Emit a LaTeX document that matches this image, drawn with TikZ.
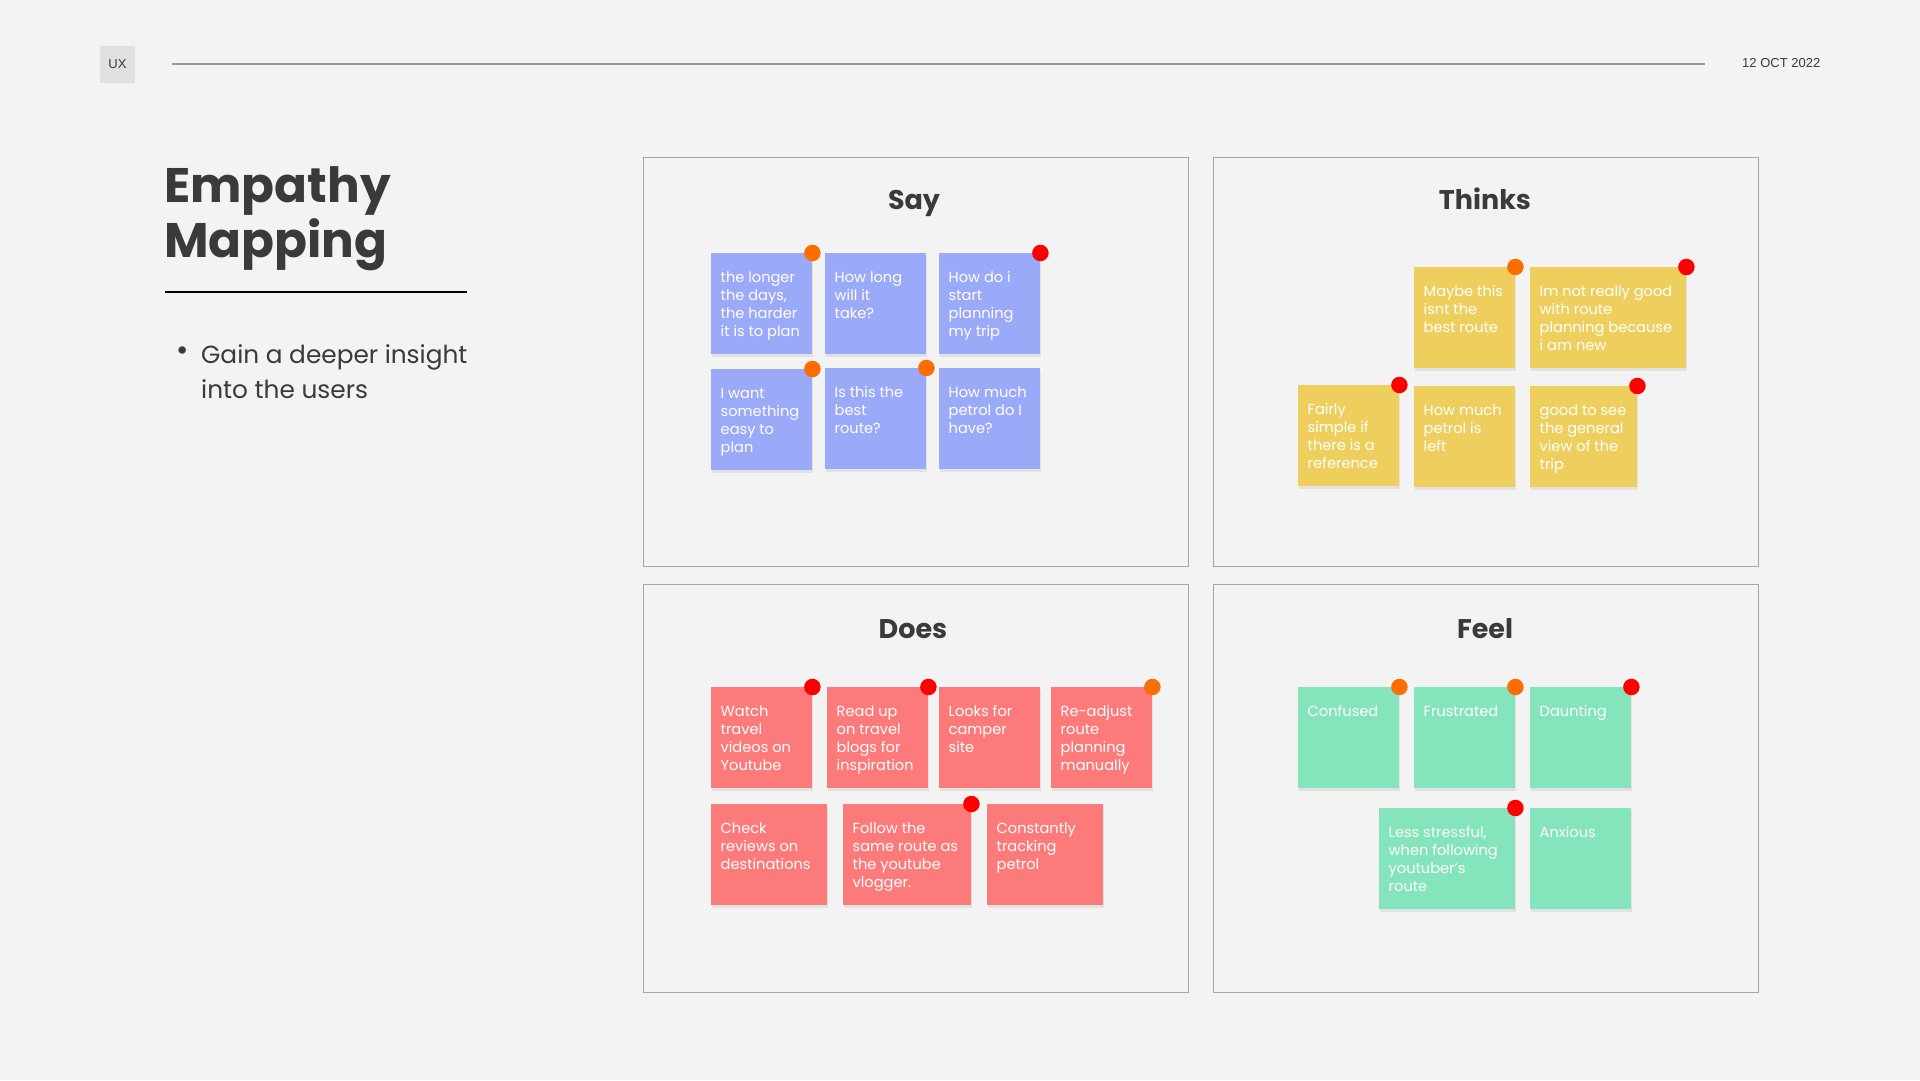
\documentclass[tikz,border=0pt]{standalone}
\usepackage{fontspec}
\setmainfont{Poppins}
\newfontfamily\helv{Liberation Sans}
\usetikzlibrary{shadows}
\definecolor{bg}{HTML}{F3F3F3}
\definecolor{ink}{HTML}{3A3A3A}
\definecolor{sayc}{HTML}{9BA9F9}
\definecolor{thinkc}{HTML}{EECF5D}
\definecolor{doesc}{HTML}{FC7A79}
\definecolor{feelc}{HTML}{84E4BB}
\definecolor{dotor}{HTML}{FF6D00}
\definecolor{dotred}{HTML}{FF0000}
\definecolor{framec}{HTML}{A6A6A6}
\definecolor{rulec}{HTML}{9A9A9A}
\definecolor{uxbox}{HTML}{E0E0E0}
\tikzset{
  note/.style={rectangle, inner sep=0pt, minimum height=101pt, anchor=north west,
    drop shadow={opacity=0.14, shadow xshift=1pt, shadow yshift=-3pt}},
  notetext/.style={anchor=north west, inner sep=0pt, align=left, text=white,
    font=\fontsize{14.6}{18}\selectfont},
  pin/.style={circle, inner sep=0pt, minimum size=16.5pt},
  quad/.style={draw=framec, line width=1.3pt, fill=bg, anchor=north west, inner sep=0pt},
  qtitle/.style={anchor=base, text=ink, inner sep=0pt, font=\fontsize{27}{30}\selectfont\bfseries},
}
\newcommand\sticky[6]{%
  \node[note, fill=#5, minimum width=#4pt] (#1) at (#2,#3) {};
  \node[notetext] (#1-t) at ([xshift=9.5pt,yshift=-15.5pt]#1.north west) {\rule{0pt}{14pt}#6};
}
\newcommand\stickypin[2]{%
  \node[pin, fill=#2] (#1-pin) at (#1.north east) {};
}
\begin{document}
\begin{tikzpicture}[x=1pt,y=-1pt]
\fill[bg] (0,0) rectangle (1920,1080);
\useasboundingbox (0,0) rectangle (1920,1080);

% header
\node[fill=uxbox, minimum width=35pt, minimum height=37pt, inner sep=0pt, text=ink,
  font=\helv\fontsize{13}{15}\selectfont] (ux) at (117.5,64.5) {UX};
\coordinate (ruleL) at (172,64);
\coordinate (ruleR) at (1705,64);
\draw[rulec, line width=1.6pt] (ruleL) -- (ruleR);
\node[anchor=west, inner sep=0pt, text=ink, font=\helv\fontsize{13}{15}\selectfont] (date) at (1742,63.5) {12 OCT 2022};

% title
\node[anchor=north west, inner sep=0pt, align=left, text=ink,
  font=\fontsize{48.5}{55}\selectfont\bfseries] (title) at (164,162) {\rule{0pt}{40pt}Empathy\\Mapping};
\coordinate (ulL) at (165,292);
\coordinate (ulR) at (467,292);
\draw[black, line width=1.3pt] (ulL) -- (ulR);
\node[inner sep=0pt, text=ink, font=\fontsize{30}{30}\selectfont] (bullet) at (183,354) {•};
\node[anchor=north west, inner sep=0pt, align=left, text=ink,
  font=\fontsize{24.8}{35}\selectfont] (btext) at (201,343) {\rule{0pt}{20pt}Gain a deeper insight\\into the users};

% quadrants
\node[quad, minimum width=545pt, minimum height=409pt] (say) at (643,157) {};
\node[quad, minimum width=545pt, minimum height=409pt] (thinks) at (1213,157) {};
\node[quad, minimum width=545pt, minimum height=408pt] (does) at (643,584) {};
\node[quad, minimum width=545pt, minimum height=408pt] (feel) at (1213,584) {};
\node[qtitle] (sayT) at (914,209) {Say};
\node[qtitle] (thinksT) at (1485,209) {Thinks};
\node[qtitle] (doesT) at (913,638) {Does};
\node[qtitle] (feelT) at (1485,638) {Feel};

% Say
\sticky{s1}{711}{253}{101}{sayc}{the longer\\the days,\\the harder\\it is to plan}
\sticky{s2}{825}{253}{101}{sayc}{How long\\will it\\take?}
\sticky{s3}{939}{253}{101}{sayc}{How do i\\start\\planning\\my trip}
\sticky{s4}{711}{369}{101}{sayc}{I want\\something\\easy to\\plan}
\sticky{s5}{825}{368}{101}{sayc}{Is this the\\best\\route?}
\sticky{s6}{939}{368}{101}{sayc}{How much\\petrol do I\\have?}
\stickypin{s1}{dotor}
\stickypin{s3}{dotred}
\stickypin{s4}{dotor}
\stickypin{s5}{dotor}

% Thinks
\sticky{t1}{1414}{267}{101}{thinkc}{Maybe this\\isnt the\\best route}
\sticky{t2}{1530}{267}{156}{thinkc}{Im not really good\\with route\\planning because\\i am new}
\sticky{t3}{1298}{385}{101}{thinkc}{Fairly\\simple if\\there is a\\reference}
\sticky{t4}{1414}{386}{101}{thinkc}{How much\\petrol is\\left}
\sticky{t5}{1530}{386}{107}{thinkc}{good to see\\the general\\view of the\\trip}
\stickypin{t1}{dotor}
\stickypin{t2}{dotred}
\stickypin{t3}{dotred}
\stickypin{t5}{dotred}

% Does
\sticky{d1}{711}{687}{101}{doesc}{Watch\\travel\\videos on\\Youtube}
\sticky{d2}{827}{687}{101}{doesc}{Read up\\on travel\\blogs for\\inspiration}
\sticky{d3}{939}{687}{101}{doesc}{Looks for\\camper\\site}
\sticky{d4}{1051}{687}{101}{doesc}{Re-adjust\\route\\planning\\manually}
\sticky{d5}{711}{804}{116}{doesc}{Check\\reviews on\\destinations}
\sticky{d6}{843}{804}{128}{doesc}{Follow the\\same route as\\the youtube\\vlogger.}
\sticky{d7}{987}{804}{116}{doesc}{Constantly\\tracking\\petrol}
\stickypin{d1}{dotred}
\stickypin{d2}{dotred}
\stickypin{d4}{dotor}
\stickypin{d6}{dotred}

% Feel
\sticky{f1}{1298}{687}{101}{feelc}{Confused}
\sticky{f2}{1414}{687}{101}{feelc}{Frustrated}
\sticky{f3}{1530}{687}{101}{feelc}{Daunting}
\sticky{f4}{1379}{808}{136}{feelc}{Less stressful,\\when following\\youtuber’s\\route}
\sticky{f5}{1530}{808}{101}{feelc}{Anxious}
\stickypin{f1}{dotor}
\stickypin{f2}{dotor}
\stickypin{f3}{dotred}
\stickypin{f4}{dotred}
\end{tikzpicture}
\end{document}
